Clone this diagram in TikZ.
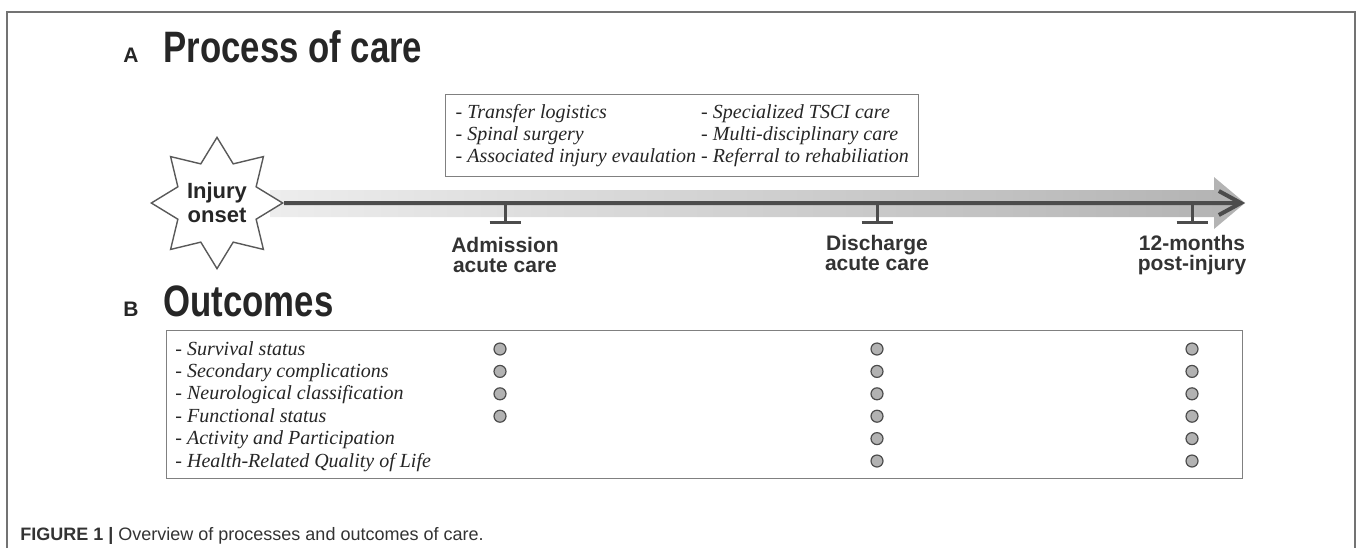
\documentclass[tikz,border=0pt]{standalone}
\usepackage{fontspec}
\setmainfont{Liberation Serif}
\setsansfont{Liberation Sans}
\newfontfamily\headfont[FakeStretch=0.79]{Liberation Sans}
\usetikzlibrary{shapes.geometric,arrows.meta,positioning}

\begin{document}
\begin{tikzpicture}
  [x=0.5pt,y=-0.5pt,font=\sffamily]
      \tikzstyle{frame_style} = [draw=black!55, line width=1pt]
      \tikzstyle{head_style} = [font={\headfont\bfseries\fontsize{22}{24}\selectfont}, text=black!85, inner sep=0, anchor=base west]
      \tikzstyle{letter_style} = [font={\sffamily\bfseries\fontsize{10.5}{12}\selectfont}, text=black!85, inner sep=0, anchor=base west]
      \tikzstyle{line_style} = [draw=black!70, line width=2pt, -{Straight Barb[length=11pt,width=12pt]}]
      \tikzstyle{tick_style} = [draw=black!70, line width=1.5pt]
      \tikzstyle{time_label} = [font={\sffamily\bfseries\fontsize{10.5}{10}\selectfont}, text=black!80, align=center, inner sep=0]
      \tikzstyle{box_style} = [draw=black!50, line width=0.7pt, fill=white]
      \tikzstyle{item_style} = [font={\rmfamily\itshape\fontsize{10}{11}\selectfont}, text=black!85, inner sep=0, anchor=base west]
      \tikzstyle{dot_style} = [circle, draw=black!70, fill=black!30, line width=0.6pt, minimum size=6pt, inner sep=0]
  \useasboundingbox (0,0) rectangle (1358,548);
  \draw[frame_style] (7,548) -- (7,12) -- (1355,12) -- (1355,548);

  % headings
  \node[letter_style] (hA) at (123,62) {A};
  \node[head_style] (head_care) at (163,62) {Process of care};
  \node[letter_style] (hB) at (123,316) {B};
  \node[head_style] (head_out) at (163,316) {Outcomes};

  % time line
  \shade[left color=black!7, right color=black!30] (270,190) -- (1214,190) -- (1214,177)
    -- (1245,203) -- (1214,229) -- (1214,217) -- (270,217) -- cycle;
  \node[star, star points=8, star point ratio=1.55, minimum size=64pt, inner sep=0pt,
    draw=black!65, line width=0.7pt, fill=white, align=center, text=black!85,
    font={\sffamily\bfseries\fontsize{11}{12}\selectfont}] (onset) at (217,203) {Injury\\onset};
  \coordinate (tip) at (1245,203);
  \draw[line_style] (onset.east) -- (tip);

  \coordinate (t1) at (505,203);
  \coordinate (t1_bar) at (505,222);
  \coordinate (t2) at (877,203);
  \coordinate (t2_bar) at (877,222);
  \coordinate (t3) at (1192,203);
  \coordinate (t3_bar) at (1192,222);
  \foreach \t in {t1,t2,t3} {
    \draw[tick_style] (\t) -- (\t_bar);
    \draw[tick_style] ([xshift=-7.75pt]\t_bar) -- ([xshift=7.75pt]\t_bar);
  }
  \node[time_label, below=7.5pt of t1_bar] (l1) {Admission\\acute care};
  \node[time_label, below=6.5pt of t2_bar] (l2) {Discharge\\acute care};
  \node[time_label, below=6.5pt of t3_bar] (l3) {12-months\\post-injury};

  % process box
  \node[box_style, anchor=north west, inner xsep=5pt, inner ysep=4pt,
    font={\rmfamily\itshape\fontsize{10}{11}\selectfont}, text=black!85] (care) at (445,94)
    {\begin{tabular}{@{}l@{\hspace{2.5pt}}l@{}}
      - Transfer logistics & - Specialized TSCI care\\
      - Spinal surgery & - Multi-disciplinary care\\
      - Associated injury evaulation & - Referral to rehabiliation
    \end{tabular}};

  % outcomes box
  \node[box_style, anchor=north west, minimum width=538pt, minimum height=74pt, inner sep=0] (outbox) at (166,330) {};
  \foreach \txt [count=\i] in {Survival status, Secondary complications, Neurological classification,
      Functional status, Activity and Participation, Health-Related Quality of Life}
    \node[item_style] (o\i) at (175,{355+22.4*(\i-1)}) {- \txt};
  \foreach \i in {1,...,4}
    \node[dot_style] (a\i) at (500,{349+22.4*(\i-1)}) {};
  \foreach \i in {1,...,6} {
    \node[dot_style] (d\i) at (877,{349+22.4*(\i-1)}) {};
    \node[dot_style] (m\i) at (1192,{349+22.4*(\i-1)}) {};
  }

  \node[anchor=base west, inner sep=0, text=black!80, font={\sffamily\fontsize{9}{11}\selectfont}] (caption) at (20,540)
    {\textbf{FIGURE 1 |} Overview of processes and outcomes of care.};
\end{tikzpicture}
\end{document}
